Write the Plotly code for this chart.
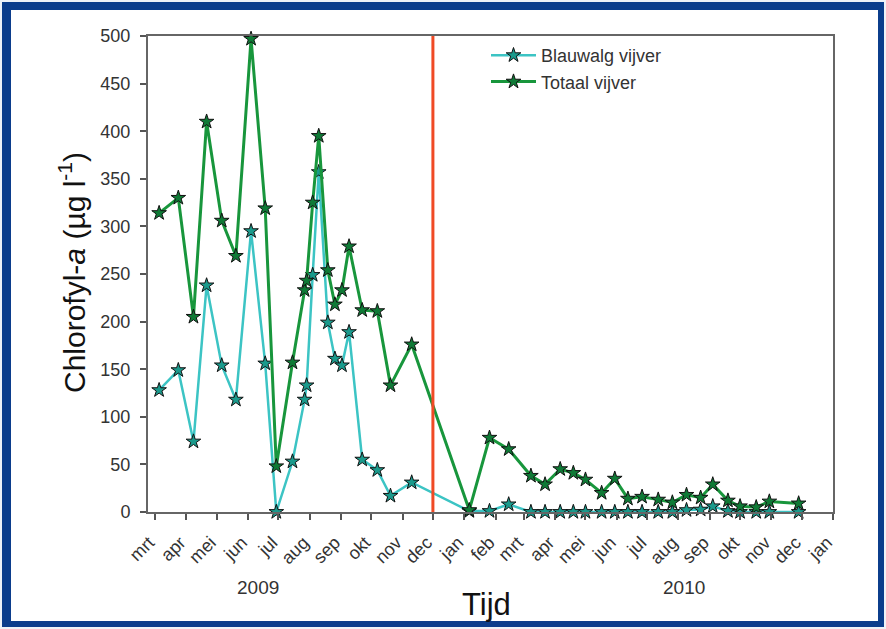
import plotly.graph_objects as go

# ---- data ----
dates = ["2009-03-05", "2009-03-24", "2009-04-08", "2009-04-21", "2009-05-06", "2009-05-20",
         "2009-06-04", "2009-06-18", "2009-06-29", "2009-07-15", "2009-07-27", "2009-07-29",
         "2009-08-04", "2009-08-10", "2009-08-19", "2009-08-26", "2009-09-02", "2009-09-09",
         "2009-09-22", "2009-10-07", "2009-10-20", "2009-11-10",
         "2010-01-06", "2010-01-26", "2010-02-14", "2010-03-08", "2010-03-22", "2010-04-06",
         "2010-04-19", "2010-05-01", "2010-05-17", "2010-05-30", "2010-06-12", "2010-06-26",
         "2010-07-12", "2010-07-26", "2010-08-09", "2010-08-23", "2010-09-04", "2010-09-19",
         "2010-10-01", "2010-10-17", "2010-10-30", "2010-11-28"]
totaal = [314, 330, 205, 410, 306, 269, 497, 319, 48, 157, 233, 243, 325, 395, 254, 218,
          233, 279, 212, 211, 133, 176,
          2, 78, 66, 38, 29, 45, 41, 34, 20, 35, 14, 16, 13, 10, 18, 15, 29, 12, 6, 5, 11, 9]
blauwalg = [128, 149, 74, 238, 154, 118, 295, 156, 0, 53, 118, 133, 249, 357, 199, 161,
            154, 189, 55, 44, 17, 31,
            1, 1, 8, 0, 0, 0, 0, 0, 0, 0, 0, 0, 0, 0, 2, 2.5, 6, 1, 0, 0, 0, 0]
tick_dates = ["2009-03-01", "2009-04-01", "2009-05-01", "2009-06-01", "2009-07-01", "2009-08-01",
              "2009-09-01", "2009-10-01", "2009-11-01", "2009-12-01", "2010-01-01", "2010-02-01",
              "2010-03-01", "2010-04-01", "2010-05-01", "2010-06-01", "2010-07-01", "2010-08-01",
              "2010-09-01", "2010-10-01", "2010-11-01", "2010-12-01", "2011-01-01"]
tick_labels = ["mrt", "apr", "mei", "jun", "jul", "aug", "sep", "okt", "nov", "dec", "jan", "feb",
               "mrt", "apr", "mei", "jun", "jul", "aug", "sep", "okt", "nov", "dec", "jan"]
year_labels = ["2009", "2010"]
year_dates = ["2009-06-11", "2010-08-07"]
divider_date = "2009-12-01"
x_title = "Tijd"
y_title = "Chlorofyl-<i>a</i> (µg l<sup>-1</sup>)"

W, H = 886, 629
L, R, T, B = 148, 833, 36, 512
PW, PH = R - L, B - T


def px(x):
    return (x - L) / PW


def py(y):
    return (B - y) / PH


FONT = "Liberation Sans, Arial, sans-serif"

fig = go.Figure()
fig.add_trace(go.Scatter(
    x=dates, y=blauwalg, mode="lines+markers", name="Blauwalg vijver",
    line=dict(color="#3cc4c4", width=2.5),
    marker=dict(symbol="star", size=11, color="#1a9a8c", line=dict(color="#111111", width=1)),
    cliponaxis=False))
fig.add_trace(go.Scatter(
    x=dates, y=totaal, mode="lines+markers", name="Totaal vijver",
    line=dict(color="#18963c", width=3),
    marker=dict(symbol="star", size=11, color="#0f7a36", line=dict(color="#111111", width=1)),
    cliponaxis=False))

shapes = [
    dict(type="rect", xref="paper", yref="paper", x0=px(2), x1=px(884), y0=py(627), y1=py(2),
         fillcolor="#0b3d8c", line=dict(width=0), layer="below"),
    dict(type="rect", xref="paper", yref="paper", x0=px(11), x1=px(878), y0=py(621), y1=py(10),
         fillcolor="white", line=dict(width=0), layer="below"),
    dict(type="line", xref="x", yref="y", x0=divider_date, x1=divider_date, y0=0, y1=500,
         line=dict(color="#f04a25", width=3)),
]

annotations = [
    dict(x=d, y=py(588), xref="x", yref="paper", text=t, showarrow=False,
         xanchor="center", yanchor="middle",
         font=dict(family=FONT, size=19, color="#333333"))
    for d, t in zip(year_dates, year_labels)
]
annotations.append(dict(x=px(486), y=py(604), xref="paper", yref="paper", text=x_title,
                        showarrow=False, xanchor="center", yanchor="middle",
                        font=dict(family=FONT, size=31, color="#111111")))
annotations.append(dict(x=px(72), y=py(273), xref="paper", yref="paper", text=y_title,
                        showarrow=False, xanchor="center", yanchor="middle", textangle=-90,
                        font=dict(family=FONT, size=30, color="#111111")))

fig.update_layout(
    width=W, height=H,
    margin=dict(l=L, r=W - R, t=T, b=H - B, autoexpand=False),
    paper_bgcolor="#eef2f8", plot_bgcolor="white",
    shapes=shapes, annotations=annotations,
    font=dict(family=FONT, color="#333333"),
    showlegend=True,
    legend=dict(x=px(486), y=py(37), xanchor="left", yanchor="top",
                bgcolor="rgba(0,0,0,0)", itemwidth=45,
                font=dict(family=FONT, size=18, color="#333333"), tracegroupgap=0),
    xaxis=dict(type="date", range=["2009-02-22", "2011-01-01"], automargin=False,
               tickmode="array", tickvals=tick_dates, ticktext=tick_labels,
               tickangle=-45, ticks="outside", ticklen=6, tickwidth=1.5, tickcolor="#555555",
               ticklabelstandoff=5, ticklabelshift=-6,
               showline=True, linecolor="#666666", linewidth=2, mirror=True,
               showgrid=False, zeroline=False,
               tickfont=dict(family=FONT, size=18, color="#333333")),
    yaxis=dict(range=[0, 500], tickmode="linear", tick0=0, dtick=50, automargin=False,
               ticks="outside", ticklen=6, tickwidth=1.5, tickcolor="#555555",
               ticklabelstandoff=6,
               showline=True, linecolor="#666666", linewidth=2, mirror=True,
               showgrid=False, zeroline=False,
               tickfont=dict(family=FONT, size=18, color="#333333")),
)

fig.write_html("out.html", config={"displayModeBar": False},
               post_script="document.body.style.margin='0';")
